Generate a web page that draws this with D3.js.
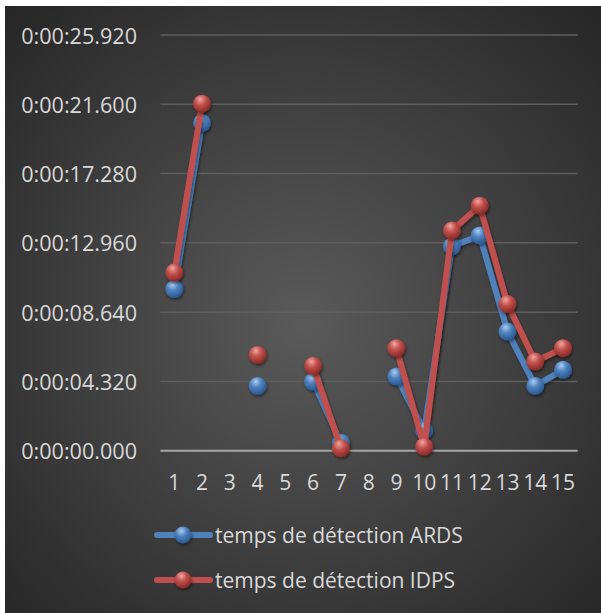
<!DOCTYPE html>
<html>
<head>
<meta charset="utf-8">
<script src="https://cdn.jsdelivr.net/npm/d3@7"></script>
<style>
  body { margin: 0; background: #ffffff; }
  text { font-family: "Open Sans", sans-serif; fill: #d9d9d9; }
</style>
</head>
<body>
<div id="chart"></div>
<script>
// data (seconds), null = no value
const categories = ["1", "2", "3", "4", "5", "6", "7", "8", "9", "10", "11", "12", "13", "14", "15"];
const ardsValues = [10.08, 20.44, null, 4.04, null, 4.31, 0.50, null, 4.62, 1.25, 12.74, 13.42, 7.43, 4.04, 5.04];
const idpsValues = [11.11, 21.64, null, 5.97, null, 5.29, 0.15, null, 6.39, 0.25, 13.73, 15.28, 9.14, 5.56, 6.39];
const yTicks = [0, 4.32, 8.64, 12.96, 17.28, 21.6, 25.92];
const seriesNames = ["temps de détection ARDS", "temps de détection IDPS"];

const width = 601, height = 613;

const svg = d3.select("#chart")
    .append("svg")
    .attr("width", width)
    .attr("height", height);

const defs = svg.append("defs");

// background gradient
const bg = defs.append("radialGradient")
    .attr("id", "bgGrad")
    .attr("cx", "50%").attr("cy", "52%").attr("r", "72%");
bg.append("stop").attr("offset", "0%").attr("stop-color", "#5a5a5a");
bg.append("stop").attr("offset", "100%").attr("stop-color", "#262626");

// sphere gradients
function sphere(id, light, base, dark) {
    const g = defs.append("radialGradient")
        .attr("id", id)
        .attr("cx", "40%").attr("cy", "32%").attr("r", "70%")
        .attr("fx", "40%").attr("fy", "25%");
    g.append("stop").attr("offset", "0%").attr("stop-color", light);
    g.append("stop").attr("offset", "45%").attr("stop-color", base);
    g.append("stop").attr("offset", "100%").attr("stop-color", dark);
}
sphere("blueBall", "#a9cdf5", "#4f81bd", "#27568f");
sphere("redBall", "#f2a5a3", "#c0504d", "#862724");

const shadow = defs.append("filter").attr("id", "shadow")
    .attr("x", "-20%").attr("y", "-20%").attr("width", "140%").attr("height", "140%");
shadow.append("feDropShadow")
    .attr("dx", 1).attr("dy", 2).attr("stdDeviation", 1.5)
    .attr("flood-color", "#000").attr("flood-opacity", 0.45);

svg.append("rect")
    .attr("x", 5).attr("y", 6)
    .attr("width", 596).attr("height", 607)
    .attr("fill", "url(#bgGrad)");

const x = d3.scaleBand()
    .domain(categories)
    .range([160.4, 576.9]);

const y = d3.scaleLinear()
    .domain([0, 25.92])
    .range([450.7, 35]);

function fmt(v) {
    let s = v.toFixed(3);
    if (v < 10) s = "0" + s;
    return "0:00:" + s;
}

// gridlines
svg.append("g")
    .selectAll("line")
    .data(yTicks.filter(d => d > 0))
    .join("line")
    .attr("x1", 160.4).attr("x2", 577.7)
    .attr("y1", d => y(d)).attr("y2", d => y(d))
    .attr("stroke", "#5e5e5e")
    .attr("stroke-width", 1.5);

// y labels
svg.append("g")
    .selectAll("text")
    .data(yTicks)
    .join("text")
    .attr("x", 137)
    .attr("y", d => y(d))
    .attr("text-anchor", "end")
    .attr("dominant-baseline", "central")
    .style("font-size", "21.6px")
    .text(d => fmt(d));

// x axis line
svg.append("line")
    .attr("x1", 160.4).attr("x2", 577.7)
    .attr("y1", y(0)).attr("y2", y(0))
    .attr("stroke", "#a6a6a6")
    .attr("stroke-width", 2);

// x labels
svg.append("g")
    .selectAll("text")
    .data(categories)
    .join("text")
    .attr("x", d => x(d) + x.bandwidth() / 2)
    .attr("y", 482)
    .attr("text-anchor", "middle")
    .attr("dominant-baseline", "central")
    .style("font-size", "21px")
    .text(d => d);

const line = d3.line()
    .defined(d => d.v !== null)
    .x(d => x(d.c) + x.bandwidth() / 2)
    .y(d => y(d.v));

function drawSeries(values, color, ball) {
    const pts = categories.map((c, i) => ({ c: c, v: values[i] }));
    const g = svg.append("g");
    g.append("path")
        .datum(pts)
        .attr("d", line)
        .attr("fill", "none")
        .attr("stroke", color)
        .attr("stroke-width", 6)
        .attr("stroke-linejoin", "round")
        .attr("stroke-linecap", "round")
        .attr("filter", "url(#shadow)");
    g.selectAll("circle")
        .data(pts.filter(d => d.v !== null))
        .join("circle")
        .attr("cx", d => x(d.c) + x.bandwidth() / 2)
        .attr("cy", d => y(d.v))
        .attr("r", 9)
        .attr("fill", "url(#" + ball + ")")
        .attr("filter", "url(#shadow)");
}

drawSeries(ardsValues, "#4f81bd", "blueBall");
drawSeries(idpsValues, "#c0504d", "redBall");

// legend
const legendItems = [
    { name: seriesNames[0], color: "#4f81bd", ball: "blueBall", y: 535 },
    { name: seriesNames[1], color: "#c0504d", ball: "redBall", y: 580 }
];
const lg = svg.append("g")
    .selectAll("g")
    .data(legendItems)
    .join("g");
lg.append("line")
    .attr("x1", 157).attr("x2", 210)
    .attr("y1", d => d.y).attr("y2", d => d.y)
    .attr("stroke", d => d.color)
    .attr("stroke-width", 6)
    .attr("stroke-linecap", "round");
lg.append("circle")
    .attr("cx", 183).attr("cy", d => d.y)
    .attr("r", 8.5)
    .attr("fill", d => "url(#" + d.ball + ")")
    .attr("filter", "url(#shadow)");
lg.append("text")
    .attr("x", 215)
    .attr("y", d => d.y)
    .attr("dominant-baseline", "central")
    .style("font-size", "21px")
    .text(d => d.name);
</script>
</body>
</html>
